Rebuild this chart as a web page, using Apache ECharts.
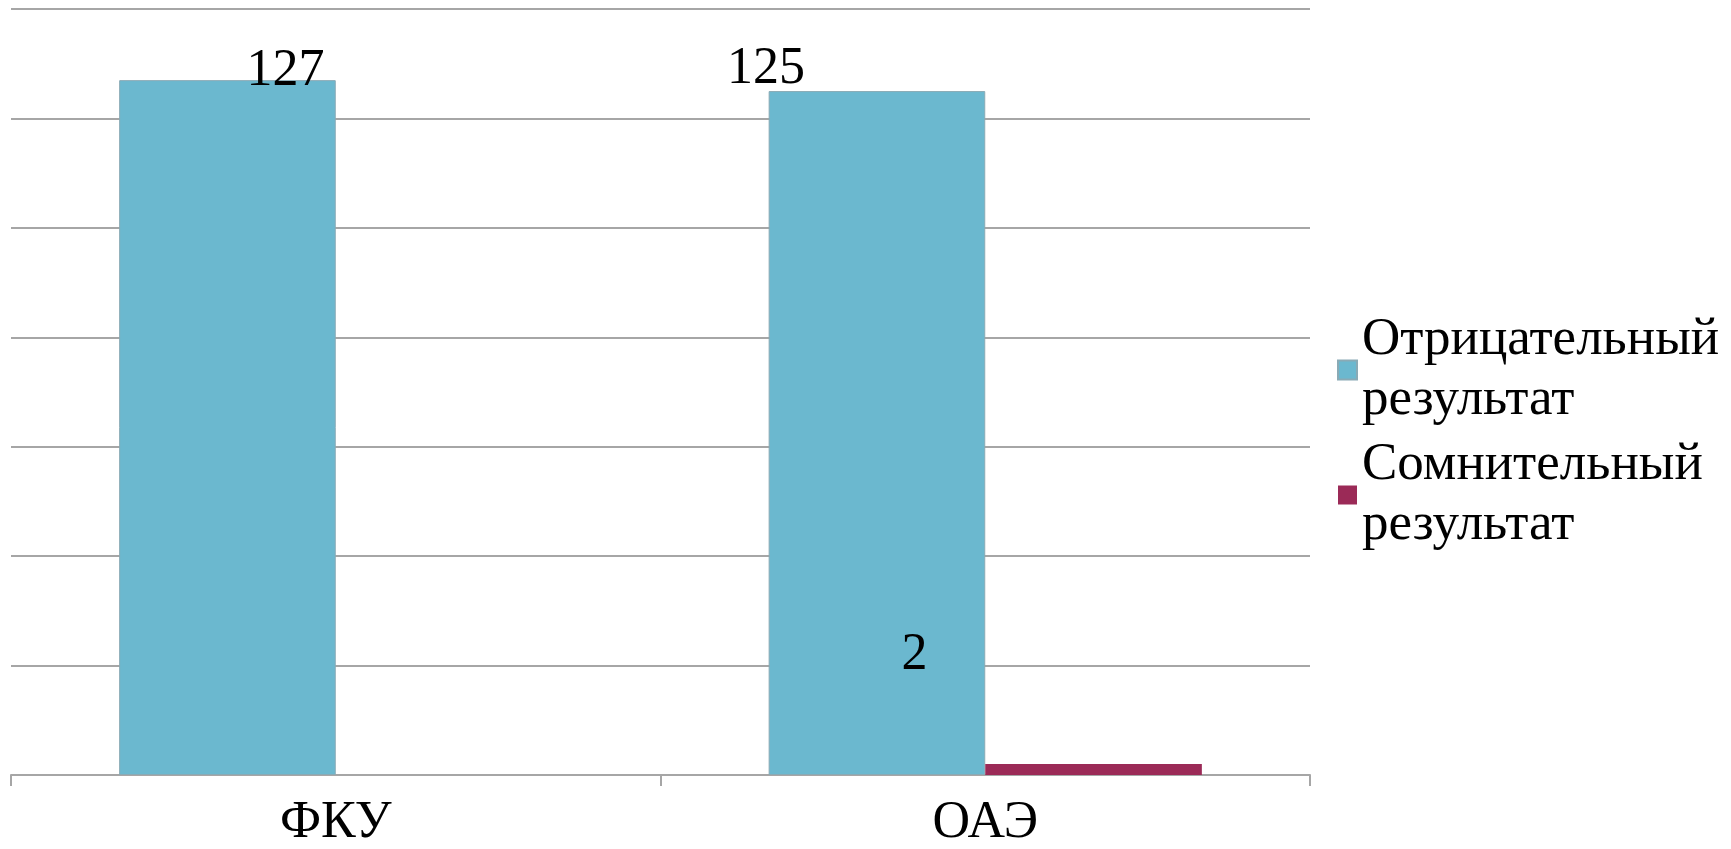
<!DOCTYPE html>
<html>
<head>
<meta charset="utf-8">
<script src="https://cdn.jsdelivr.net/npm/echarts@6/dist/echarts.min.js"></script>
<style>
html,body{margin:0;padding:0;background:#fff;}
#chart{width:1731px;height:849px;}
</style>
</head>
<body>
<div id="chart"></div>
<script>
var categories = ['ФКУ', 'ОАЭ'];
var seriesNames = ['Отрицательный\nрезультат', 'Сомнительный\nрезультат'];
var negativeValues = [127, 125];
var doubtfulValues = [null, 2];
var yMin = 0, yMax = 140, yInterval = 20;

var colors = ['#6bb8cf', '#9b2a57'];
var FONT = '"Liberation Serif", "Times New Roman", serif';

// label offsets (style only) per series / point
var labelOffsets = [
  [[58, -9], [-111, -22]],
  [[0, 0], [-179, -109]]
];

function buildData(values, sIdx) {
  return values.map(function (v, i) {
    if (v === null) return null;
    return {
      value: v,
      label: { offset: labelOffsets[sIdx][i] }
    };
  });
}

var chart = echarts.init(document.getElementById('chart'));
chart.setOption({
  animation: false,
  color: colors,
  grid: { left: 11, right: 421, top: 9, bottom: 69 },
  legend: {
    orient: 'vertical',
    left: 1337,
    top: 310,
    padding: 0,
    itemWidth: 19,
    itemHeight: 19,
    itemGap: 5,
    icon: 'rect',
    textStyle: {
      fontFamily: FONT,
      fontSize: 53,
      lineHeight: 60,
      color: '#000'
    },
    data: seriesNames
  },
  xAxis: {
    type: 'category',
    data: categories,
    axisLine: { show: true, lineStyle: { color: '#a6a6a6', width: 2 } },
    axisTick: { show: true, length: 11, lineStyle: { color: '#a6a6a6', width: 2 } },
    axisLabel: { fontFamily: FONT, fontSize: 52, color: '#000', margin: 22 }
  },
  yAxis: {
    type: 'value',
    min: yMin,
    max: yMax,
    interval: yInterval,
    axisLine: { show: false },
    axisTick: { show: false },
    axisLabel: { show: false },
    splitLine: { lineStyle: { color: '#a6a6a6', width: 2 } }
  },
  series: [
    {
      name: seriesNames[0],
      type: 'bar',
      data: buildData(negativeValues, 0),
      barGap: '0%',
      barCategoryGap: '33.3%',
      itemStyle: { color: colors[0], borderColor: '#8aaab5', borderWidth: 1 },
      label: {
        show: true,
        position: 'top',
        distance: 0,
        verticalAlign: 'middle',
        fontFamily: FONT,
        fontSize: 52,
        color: '#000'
      }
    },
    {
      name: seriesNames[1],
      type: 'bar',
      data: buildData(doubtfulValues, 1),
      barGap: '0%',
      barCategoryGap: '33.3%',
      itemStyle: { color: colors[1] },
      label: {
        show: true,
        position: 'top',
        distance: 0,
        verticalAlign: 'middle',
        fontFamily: FONT,
        fontSize: 52,
        color: '#000'
      }
    }
  ]
});
</script>
</body>
</html>
